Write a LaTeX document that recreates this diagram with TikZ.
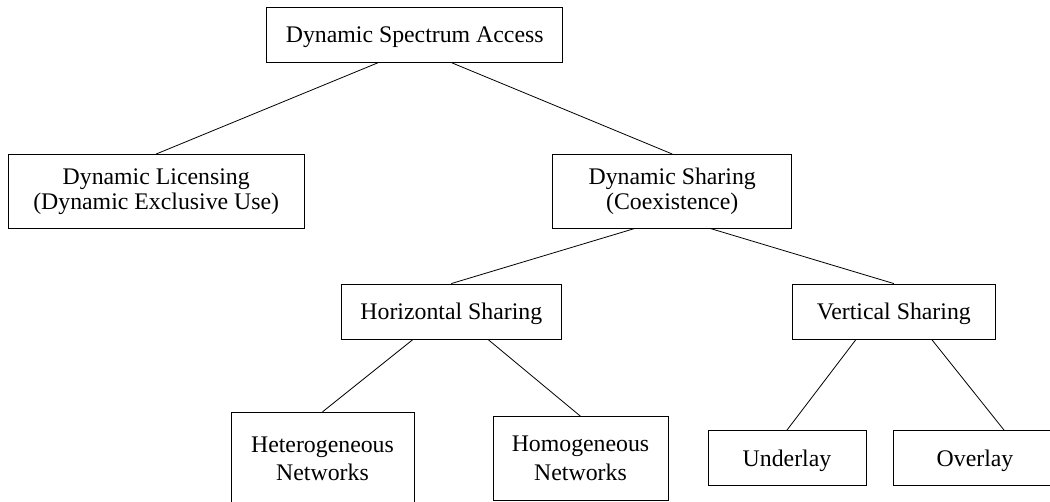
\documentclass[tikz,border=0pt]{standalone}
\usepackage{fontspec}
\setmainfont{Liberation Serif}
\begin{document}
\begin{tikzpicture}[x=1pt,y=-1pt,
  box/.style={draw=black, line width=0.9pt, inner sep=0pt, align=center,
    font=\fontsize{23.8}{25}\selectfont},
  onerow/.style={box, text height=15.8pt, text depth=0pt},
  tallrows/.style={box, font=\fontsize{23.8}{28.3}\selectfont},
  link/.style={draw=black, line width=0.8pt}]
\useasboundingbox (0,0) rectangle (1050,501);
\clip (0,0) rectangle (1050,501);

% top level
\node[onerow, minimum width=296pt, minimum height=55pt] (dsa) at (414.7,34.8)
  {Dynamic Spectrum Access};

% second level
\node[box, minimum width=295.7pt, minimum height=73.5pt] (dl) at (156.2,191.2)
  {Dynamic Licensing\\(Dynamic Exclusive Use)};
\node[box, minimum width=239pt, minimum height=73.5pt] (ds) at (672.2,191.2)
  {Dynamic Sharing\\(Coexistence)};

% third level
\node[onerow, minimum width=220.7pt, minimum height=55pt] (hs) at (451.3,311.5)
  {Horizontal Sharing};
\node[onerow, minimum width=202.3pt, minimum height=55pt] (vs) at (893.8,311.5)
  {Vertical Sharing};

% leaves
\node[tallrows, minimum width=183pt, minimum height=93pt] (het) at (322.5,458.8)
  {Heterogeneous\\Networks};
\node[tallrows, minimum width=175pt, minimum height=83.3pt] (hom) at (580.5,458.35)
  {Homogeneous\\Networks};
\node[onerow, minimum width=158pt, minimum height=55.2pt] (und) at (787,458.1)
  {Underlay};
\node[onerow, minimum width=164pt, minimum height=55.2pt] (ovl) at (975,458.1)
  {Overlay};

% tree edges
\draw[link] ([xshift=-36.7pt]dsa.south) -- (dl.north);
\draw[link] ([xshift=37pt]dsa.south) -- (ds.north);
\draw[link] ([xshift=-37.2pt]ds.south) -- (hs.north);
\draw[link] ([xshift=37.8pt]ds.south) -- (vs.north);
\draw[link] ([xshift=-38.3pt]hs.south) -- (het.north);
\draw[link] ([xshift=36.7pt]hs.south) -- (hom.north);
\draw[link] ([xshift=-37.8pt]vs.south) -- (und.north);
\draw[link] ([xshift=37.9pt]vs.south) -- ([xshift=29pt]ovl.north);
\end{tikzpicture}
\end{document}
